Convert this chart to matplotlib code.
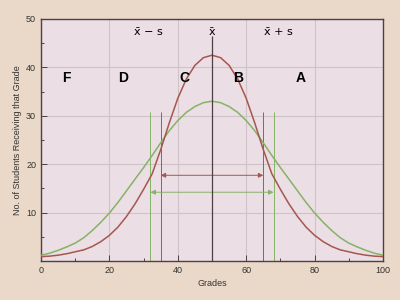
import numpy as np
import matplotlib
matplotlib.use('Agg')
import matplotlib.pyplot as plt
from matplotlib.ticker import MultipleLocator

grades = [0, 2.5, 5, 7.5, 10, 12.5, 15, 17.5, 20, 22.5, 25, 27.5, 30, 32.5, 35, 37.5, 40, 42.5, 45, 47.5,
          50, 52.5, 55, 57.5, 60, 62.5, 65, 67.5, 70, 72.5, 75, 77.5, 80, 82.5, 85, 87.5, 90, 92.5, 95, 97.5, 100]
narrow_counts = [0.9, 1.0, 1.2, 1.5, 1.9, 2.3, 3.0, 4.0, 5.3, 7.0, 9.2, 11.8, 14.8, 18.0, 23.0, 28.5, 33.6, 37.6, 40.4, 42.0,
                 42.5, 42.0, 40.4, 37.6, 33.6, 28.5, 23.0, 18.0, 14.8, 11.8, 9.2, 7.0, 5.3, 4.0, 3.0, 2.3, 1.9, 1.5, 1.2, 1.0, 0.9]
wide_counts = [1.2, 1.6, 2.2, 2.9, 3.7, 4.8, 6.3, 8.0, 9.9, 12.1, 14.5, 16.9, 19.3, 21.8, 24.4, 26.9, 29.0, 30.7, 31.9, 32.7,
               33.0, 32.7, 31.9, 30.7, 29.0, 26.9, 24.4, 21.8, 19.3, 16.9, 14.5, 12.1, 9.9, 8.0, 6.3, 4.8, 3.7, 2.9, 2.2, 1.6, 1.2]

mean = 50
s_narrow = 15
s_wide = 18

letters = ['F', 'D', 'C', 'B', 'A']
letter_x = [7.5, 24, 42, 57.5, 76]
marks = ['x̄ − s', 'x̄', 'x̄ + s']
mark_x = [31.5, 50, 69.5]

red = '#a5574e'
green = '#85b366'
dark = '#4e3f45'

fig = plt.figure(figsize=(4, 3), dpi=100, facecolor='#ead9c8')
ax = fig.add_axes([0.1025, 0.13, 0.855, 0.807])
ax.set_facecolor('#ebdee4')

ax.plot(grades, wide_counts, color=green, lw=1.1, zorder=3)
ax.plot(grades, narrow_counts, color=red, lw=1.1, zorder=3)

ax.vlines(mean, 0, 46.5, color=dark, lw=0.9, zorder=4)
ax.vlines([mean - s_narrow, mean + s_narrow], 0, 30.7, color=red, lw=0.7, zorder=2)
ax.vlines([mean - s_wide, mean + s_wide], 0, 30.7, color=green, lw=0.7, zorder=2)

ax.annotate('', xy=(mean - s_narrow, 17.7), xytext=(mean + s_narrow, 17.7),
            arrowprops=dict(arrowstyle='<|-|>', color=red, lw=0.7, mutation_scale=7, shrinkA=0, shrinkB=0))
ax.annotate('', xy=(mean - s_wide, 14.2), xytext=(mean + s_wide, 14.2),
            arrowprops=dict(arrowstyle='<|-|>', color=green, lw=0.7, mutation_scale=7, shrinkA=0, shrinkB=0))

for l, x in zip(letters, letter_x):
    ax.text(x, 37.8, l, ha='center', va='center', fontsize=10, fontweight='bold',
            family='Liberation Sans', color='black')
for m, x in zip(marks, mark_x):
    ax.text(x, 47.3, m, ha='center', va='center', fontsize=8, family='DejaVu Sans', color='black')

ax.set_xlim(0, 100)
ax.set_ylim(0, 50)
ax.set_xticks([0, 20, 40, 60, 80, 100])
ax.set_yticks([10, 20, 30, 40, 50])
ax.xaxis.set_minor_locator(MultipleLocator(10))
ax.yaxis.set_minor_locator(MultipleLocator(5))
ax.grid(True, which='major', color='#cfc3c8', lw=0.8, zorder=0)
ax.set_axisbelow(True)
ax.tick_params(which='both', direction='in', colors=dark, labelcolor='#333333', labelsize=6.5)
ax.tick_params(which='major', length=4, width=0.7)
ax.tick_params(which='minor', length=2.5, width=0.7)
for lab in ax.get_xticklabels() + ax.get_yticklabels():
    lab.set_family('Liberation Sans')
for sp in ax.spines.values():
    sp.set_color(dark)
    sp.set_linewidth(1.0)

ax.set_xlabel('Grades', fontsize=6.5, family='Liberation Sans', color='#333333', labelpad=3)
ax.set_ylabel('No. of Students Receiving that Grade', fontsize=6.5, family='Liberation Sans',
              color='#333333', labelpad=3)

fig.savefig('out.png', dpi=100, facecolor=fig.get_facecolor())
